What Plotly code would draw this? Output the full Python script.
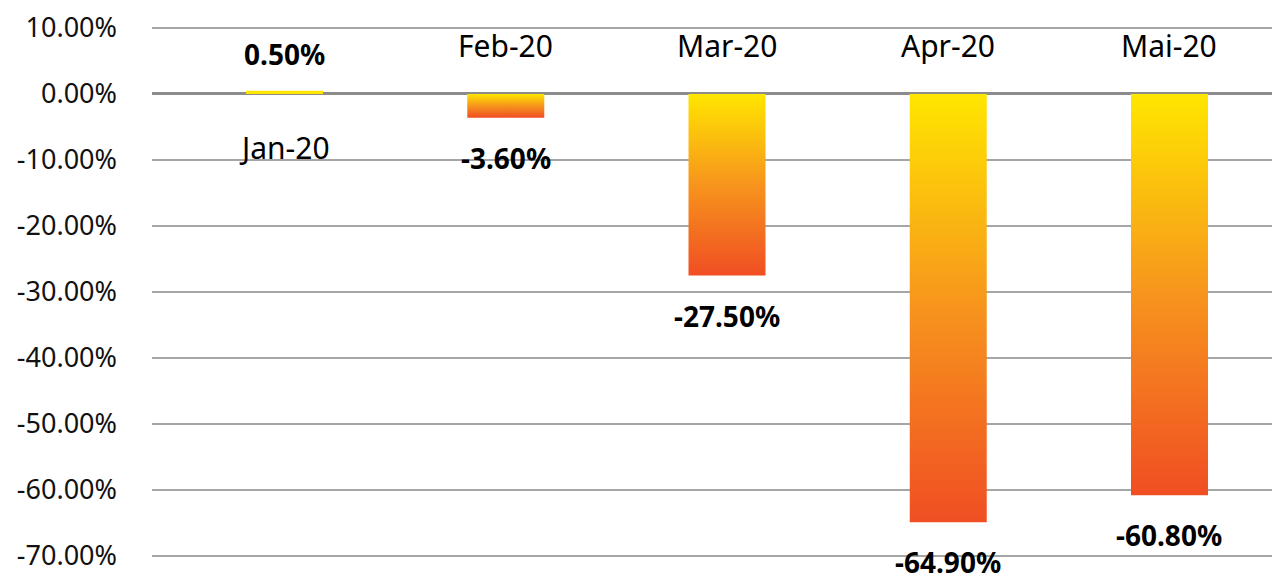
import plotly.graph_objects as go

# data
months = ['Jan-20', 'Feb-20', 'Mar-20', 'Apr-20', 'Mai-20']
change_pct = [0.5, -3.6, -27.5, -64.9, -60.8]
value_labels = ['0.50%', '-3.60%', '-27.50%', '-64.90%', '-60.80%']
y_ticks = [10, 0, -10, -20, -30, -40, -50, -60, -70]

YELLOW = '#FFE600'
ORANGE = '#F7941D'
RED = '#F04E23'
FONT = 'Noto Sans'
HALF_W = 0.174

fig = go.Figure()

for i, (m, v) in enumerate(zip(months, change_pct)):
    # each bar is a filled rectangle so it can carry a vertical gradient
    if v < 0:
        scale = [[0, RED], [0.5, ORANGE], [1, YELLOW]]
    else:
        scale = [[0, YELLOW], [1, YELLOW]]
    fig.add_trace(go.Scatter(
        x=[i - HALF_W, i + HALF_W, i + HALF_W, i - HALF_W, i - HALF_W],
        y=[0, 0, v, v, 0],
        mode='lines',
        line=dict(width=0),
        fill='toself',
        fillgradient=dict(type='vertical', colorscale=scale),
        hoverinfo='skip',
        showlegend=False,
        name=m,
    ))

    # category label sits on the opposite side of the zero line
    fig.add_annotation(
        x=i, y=0, text=m, showarrow=False,
        yshift=-54 if v > 0 else 48,
        font=dict(family=FONT, size=30, color='#000000'),
    )
    # value label just past the bar end
    fig.add_annotation(
        x=i, y=v, text='<b>' + value_labels[i] + '</b>', showarrow=False,
        yshift=37 if v > 0 else -40,
        font=dict(family=FONT, size=28, color='#000000'),
    )

# the page body has an 8px margin, so the figure is 8px smaller each way
fig.update_layout(
    width=1272, height=565,
    margin=dict(l=144, r=0, t=13, b=13),
    plot_bgcolor='white', paper_bgcolor='white',
    font=dict(family=FONT, size=27, color='#000000'),
    xaxis=dict(range=[-0.599, 4.4995], visible=False, fixedrange=True),
    yaxis=dict(
        range=[-70.3, 10.3],
        tickvals=y_ticks,
        ticktext=['%.2f%%' % t for t in y_ticks],
        showgrid=True, gridcolor='#A6A6A6', gridwidth=1.5,
        zeroline=True, zerolinecolor='#8C8C8C', zerolinewidth=3,
        ticklabelstandoff=34,
        ticklabeloverflow='allow',
        tickfont=dict(family=FONT, size=27, color='#111111'),
    ),
)

fig.write_html('out.html')
